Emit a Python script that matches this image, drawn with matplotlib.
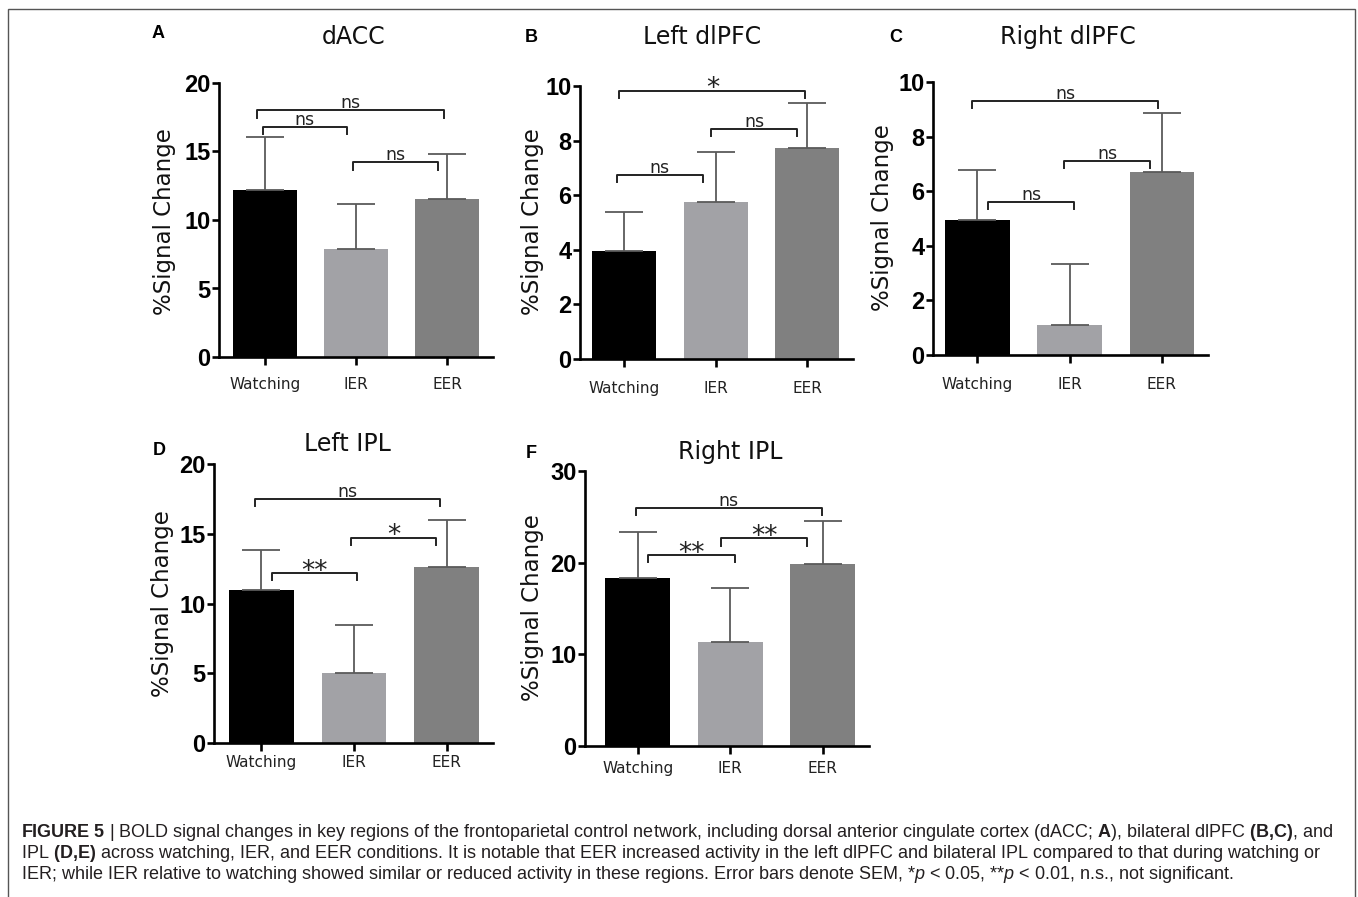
import numpy as np
import matplotlib.pyplot as plt
from matplotlib.patches import Rectangle

plt.rcParams['mathtext.fontset'] = 'custom'
plt.rcParams['mathtext.rm'] = 'Liberation Sans'
plt.rcParams['mathtext.bf'] = 'Liberation Sans:bold'
plt.rcParams['mathtext.it'] = 'Liberation Sans:italic'

W, H = 1358, 897

categories = ['Watching', 'IER', 'EER']
bar_colors = ['#000000', '#a2a2a6', '#808080']

# means and SEM
dacc_mean = [12.2, 7.85, 11.55]
dacc_sem = [3.85, 3.35, 3.3]
ldlpfc_mean = [3.97, 5.75, 7.74]
ldlpfc_sem = [1.43, 1.82, 1.65]
rdlpfc_mean = [4.94, 1.09, 6.71]
rdlpfc_sem = [1.85, 2.23, 2.14]
lipl_mean = [11.0, 5.02, 12.6]
lipl_sem = [2.86, 3.46, 3.4]
ripl_mean = [18.3, 11.35, 19.85]
ripl_sem = [5.1, 5.85, 4.65]

# significance brackets: (x start, x end, height, label)
dacc_sig = [(-0.02, 0.90, 16.8, 'ns'), (0.97, 1.90, 14.2, 'ns'), (-0.08, 1.96, 18.0, 'ns')]
ldlpfc_sig = [(-0.08, 0.86, 6.74, 'ns'), (0.95, 1.89, 8.43, 'ns'), (-0.05, 1.98, 9.82, '*')]
rdlpfc_sig = [(0.12, 1.05, 5.6, 'ns'), (0.94, 1.87, 7.1, 'ns'), (-0.06, 1.96, 9.29, 'ns')]
lipl_sig = [(0.115, 1.03, 12.19, '**'), (0.97, 1.89, 14.72, '*'), (-0.065, 1.93, 17.49, 'ns')]
ripl_sig = [(0.11, 1.05, 20.8, '**'), (0.90, 1.83, 22.65, '**'), (-0.02, 1.99, 26.0, 'ns')]


def fx(px):
    return px / W


def fy(py):
    return 1 - py / H


# letter, title, mean, sem, sig, yticks, (left, right, top, bottom) px,
# title xy, letter xy, ylabel xy, xtick pad, xlim left
panels = [
    ('A', 'dACC', dacc_mean, dacc_sem, dacc_sig, [0, 5, 10, 15, 20],
     (219, 493, 83, 357), (354, 37), (158, 34), (164, 222), 8.5, -0.5),
    ('B', 'Left dlPFC', ldlpfc_mean, ldlpfc_sem, ldlpfc_sig, [0, 2, 4, 6, 8, 10],
     (580, 853, 86, 359), (702, 37), (531, 37), (533, 222), 10, -0.48),
    ('C', 'Right dlPFC', rdlpfc_mean, rdlpfc_sem, rdlpfc_sig, [0, 2, 4, 6, 8, 10],
     (933, 1208, 82, 355), (1068, 37), (896, 37), (883, 218), 10, -0.48),
    ('D', 'Left IPL', lipl_mean, lipl_sem, lipl_sig, [0, 5, 10, 15, 20],
     (214, 493, 464, 743), (347, 444), (159, 450), (162, 604), 2.5, -0.51),
    ('F', 'Right IPL', ripl_mean, ripl_sem, ripl_sig, [0, 10, 20, 30],
     (585, 869, 471, 746), (730, 452), (531, 454), (533, 608), 5, -0.57),
]

fig = plt.figure(figsize=(W / 100, H / 100), dpi=100)

for letter, title, mean, sem, sig, yticks, rect, txy, lxy, yl, xpad, xl in panels:
    l, r, t, b = rect
    ax = fig.add_axes([fx(l), fy(b), fx(r - l), (b - t) / H])
    x = np.arange(len(categories))
    ax.bar(x, mean, width=0.7, color=bar_colors, zorder=2)
    ax.errorbar(x, mean, yerr=[np.zeros(len(sem)), sem], fmt='none', ecolor='#5a5a5a',
                elinewidth=1.3, capsize=14, capthick=1.3, zorder=3)
    ymax = yticks[-1]
    ax.set_xlim(xl, 2.5)
    ax.set_ylim(0, ymax)
    ax.set_yticks(yticks)
    ax.set_yticklabels([str(v) for v in yticks], fontfamily='Liberation Sans',
                       fontweight='bold', fontsize=17)
    ax.set_xticks(x)
    ax.set_xticklabels(categories, fontfamily='DejaVu Sans', fontsize=11, color='#222222')
    for s in ['top', 'right']:
        ax.spines[s].set_visible(False)
    for s in ['left', 'bottom']:
        ax.spines[s].set_linewidth(1.9)
    ax.tick_params(axis='y', length=5, width=1.9, pad=1)
    ax.tick_params(axis='x', length=6, width=1.9, pad=xpad)

    tip = 0.026 * ymax
    for x0, x1, y, lab in sig:
        ax.plot([x0, x0, x1, x1], [y - tip, y, y, y - tip], color='#222222',
                lw=1.4, clip_on=False, zorder=4)
        if lab == 'ns':
            ax.annotate(lab, ((x0 + x1) / 2, y), xytext=(0, 1.5), textcoords='offset points',
                        ha='center', va='baseline', fontsize=12.5, color='#222222')
        else:
            ax.annotate(lab, ((x0 + x1) / 2, y), xytext=(0, -4), textcoords='offset points',
                        ha='center', va='baseline', fontsize=19, color='#222222')

    fig.text(fx(txy[0]), fy(txy[1]), title, ha='center', va='center',
             fontfamily='DejaVu Sans', fontsize=17, color='#111111')
    fig.text(fx(lxy[0]), fy(lxy[1]), letter, ha='center', va='center',
             fontfamily='Liberation Sans', fontweight='bold', fontsize=13)
    fig.text(fx(yl[0]), fy(yl[1]), '%Signal Change', ha='center', va='center',
             rotation=90, fontfamily='DejaVu Sans', fontsize=16.5, color='#111111')

# caption box
fig.patches.append(Rectangle((fx(8), -0.01), fx(1355 - 8), fy(9) + 0.01,
                             transform=fig.transFigure, fill=False,
                             edgecolor='#555555', lw=1.0))

caption = [
    r'$\mathbf{FIGURE\ 5}$ | BOLD signal changes in key regions of the frontoparietal control network, '
    r'including dorsal anterior cingulate cortex (dACC; $\mathbf{A}$), bilateral dlPFC $\mathbf{(B{,}C)}$, and',
    r'IPL $\mathbf{(D{,}E)}$ across watching, IER, and EER conditions. It is notable that EER increased activity '
    r'in the left dlPFC and bilateral IPL compared to that during watching or',
    r'IER; while IER relative to watching showed similar or reduced activity in these regions. '
    r'Error bars denote SEM, *$\mathit{p}$ < 0.05, **$\mathit{p}$ < 0.01, n.s., not significant.',
]
cap_y = [837, 858, 879]
cap_txt = []
for line, yy in zip(caption, cap_y):
    cap_txt.append(fig.text(fx(21), fy(yy), line, ha='left', va='baseline',
                            fontfamily='Liberation Sans', fontsize=11, color='#231f20'))

# fit the first caption line to the width it takes in the figure
fig.canvas.draw()
wpx = cap_txt[0].get_window_extent().width
fs = 11 * 1315 / wpx
for tx in cap_txt:
    tx.set_fontsize(fs)

fig.savefig('out.png', dpi=100)
